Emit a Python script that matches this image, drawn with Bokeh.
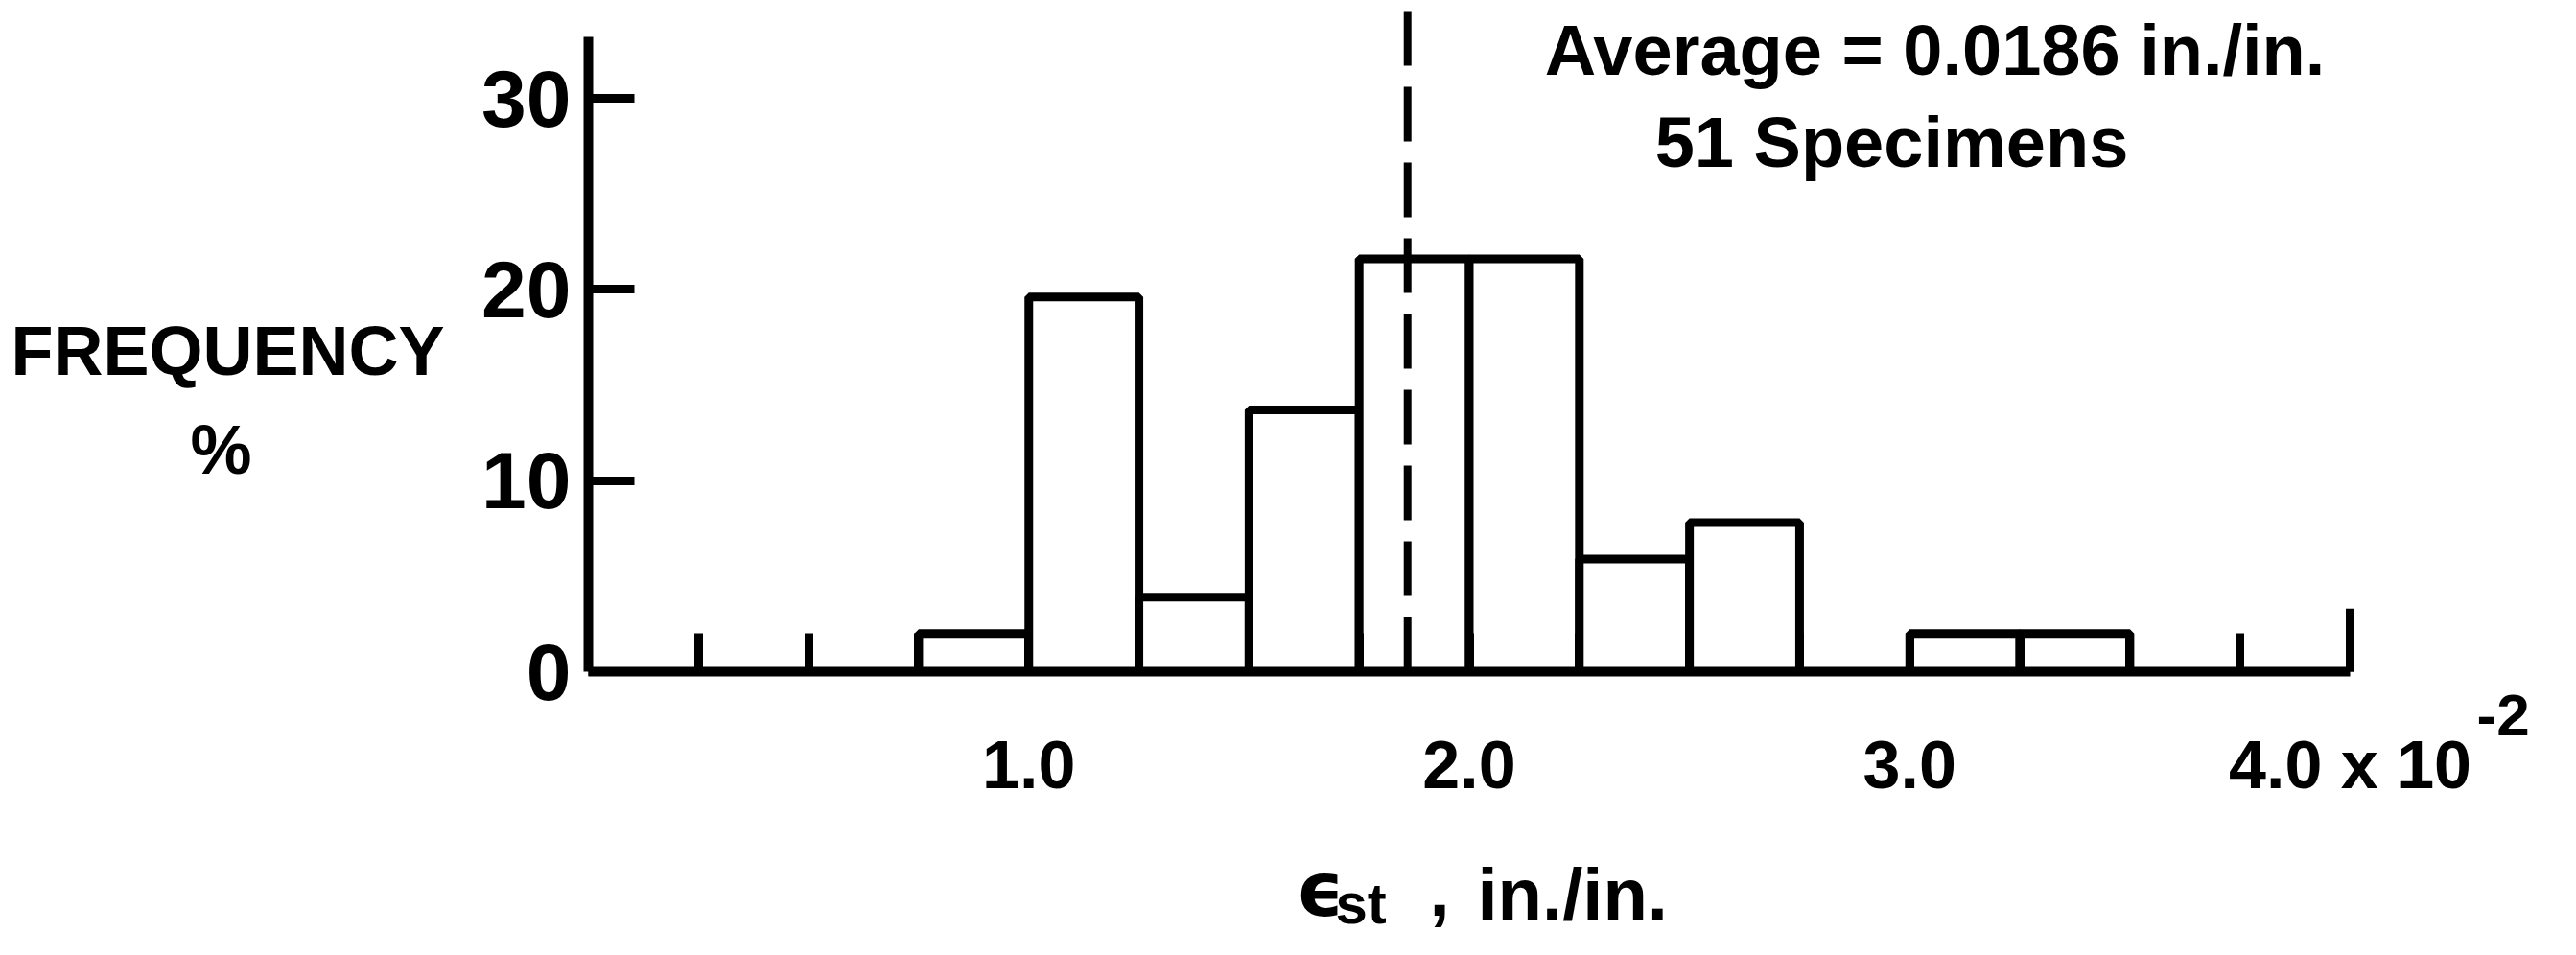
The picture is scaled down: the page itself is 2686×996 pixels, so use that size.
from bokeh.plotting import figure
from bokeh.models import Range1d, FixedTicker, Label
from bokeh.embed import file_html
from bokeh.resources import INLINE

# ---- data ----
bin_left = [0.75, 1.00, 1.25, 1.50, 1.75, 2.00, 2.25, 2.50, 3.00, 3.25]
bin_right = [1.00, 1.25, 1.50, 1.75, 2.00, 2.25, 2.50, 2.75, 3.25, 3.50]
freq_pct = [2.0, 19.6, 3.9, 13.7, 21.6, 21.6, 5.9, 7.8, 2.0, 2.0]
average = 1.86  # x 10^-2 in./in.
x_tick_values = [1.0, 2.0, 3.0, 4.0]
x_tick_labels = ["1.0", "2.0", "3.0", "4.0 x 10"]
x_minor_ticks = [0.25, 0.5, 0.75, 1.25, 1.5, 1.75, 2.25, 2.5, 2.75, 3.25, 3.5, 3.75]
y_tick_values = [0, 10, 20, 30]
x_axis_end = 4.0
y_axis_end = 33.2
end_tick_height = 3.3

FONT = "Liberation Sans"
W, H = 2670, 980
# layout: pixel position of the data origin and pixels per unit
X0_PX, X_SCALE = 613, 459.25
Y0_PX, Y_SCALE = 700, 19.93

x_start = -X0_PX / X_SCALE
x_end = (W - X0_PX) / X_SCALE
y_start = -(H - Y0_PX) / Y_SCALE
y_end = Y0_PX / Y_SCALE

p = figure(width=W, height=H,
           x_range=Range1d(x_start, x_end), y_range=Range1d(y_start, y_end),
           output_backend="svg", toolbar_location=None,
           min_border_left=0, min_border_right=0,
           min_border_top=0, min_border_bottom=0)
p.background_fill_color = "white"
p.border_fill_color = "white"
p.outline_line_color = None
p.xgrid.visible = False
p.ygrid.visible = False

# bars
p.quad(left=bin_left, right=bin_right, bottom=0, top=freq_pct,
       fill_color="white", line_color="black", line_width=9)

# average dashed line (from the x axis up to the top of the picture)
p.segment(x0=[average], y0=[0], x1=[average], y1=[y_end],
          line_color="black", line_width=8, line_dash="57 22")

# taller tick at the end of the x axis
p.segment(x0=[x_axis_end], y0=[0], x1=[x_axis_end], y1=[end_tick_height],
          line_color="black", line_width=9)

# x axis
xa = p.xaxis[0]
xa.fixed_location = 0
xa.bounds = (0, x_axis_end)
xa.ticker = FixedTicker(ticks=x_tick_values, minor_ticks=x_minor_ticks)
xa.major_label_overrides = {v: s for v, s in zip(x_tick_values, x_tick_labels)}
xa.axis_line_width = 10
xa.axis_line_color = "black"
xa.major_tick_in = 40
xa.major_tick_out = 0
xa.minor_tick_in = 40
xa.minor_tick_out = 0
xa.major_tick_line_width = 9
xa.minor_tick_line_width = 9
xa.major_tick_line_color = "black"
xa.minor_tick_line_color = "black"
xa.major_label_text_font = FONT
xa.major_label_text_font_style = "bold"
xa.major_label_text_font_size = "70px"
xa.major_label_text_color = "black"
xa.major_label_standoff = 58

# y axis
ya = p.yaxis[0]
ya.fixed_location = 0
ya.bounds = (0, y_axis_end)
ya.ticker = FixedTicker(ticks=y_tick_values)
ya.axis_line_width = 10
ya.axis_line_color = "black"
ya.major_tick_in = 48
ya.major_tick_out = 0
ya.minor_tick_in = 0
ya.minor_tick_out = 0
ya.major_tick_line_width = 9
ya.major_tick_line_color = "black"
ya.major_label_text_font = FONT
ya.major_label_text_font_style = "bold"
ya.major_label_text_font_size = "84px"
ya.major_label_text_color = "black"
ya.major_label_standoff = 18


def lab(text, px, py, size, align="left", font=FONT):
    # px, py: pixel position (text baseline) from the top-left of the picture
    shift = 0.37 * size  # renderer places the anchor ~0.37 em above the baseline
    p.add_layout(Label(x=px, y=H - (py - shift), x_units="screen", y_units="screen",
                       text=text, text_font=font, text_font_style="bold",
                       text_font_size=f"{size}px", text_color="black",
                       text_align=align, text_baseline="alphabetic"))


lab("FREQUENCY", 237, 392, 72, "center")
lab("%", 230, 495, 72, "center")
lab("Average = 0.0186 in./in.", 2017, 79, 74, "center")
lab("51 Specimens", 1972, 175, 74, "center")
lab("-2", 2582, 768, 62)
lab("\u03f5", 1351, 956, 78, font="DejaVu Sans")
lab("st", 1392, 964, 60)
lab(",", 1490, 956, 76)
lab("in./in.", 1540, 960, 76)

open("out.html", "w").write(file_html(p, INLINE))
